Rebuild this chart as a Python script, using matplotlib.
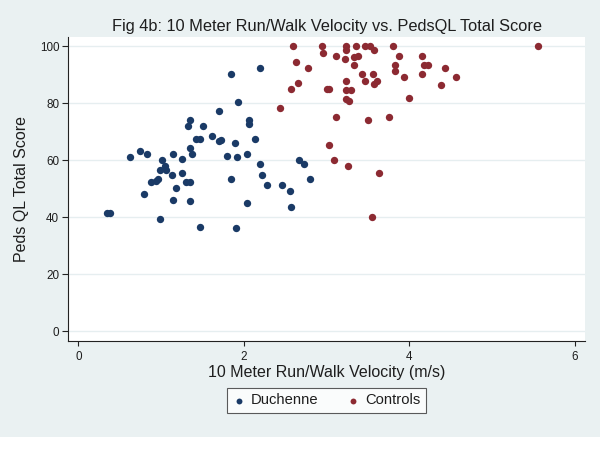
import matplotlib
matplotlib.use("Agg")
import matplotlib.pyplot as plt
from matplotlib.patches import Rectangle

plt.rcParams['font.family'] = ['Liberation Sans', 'DejaVu Sans']

duch_x = [0.35, 0.38, 0.62, 0.74, 0.83, 0.79, 0.99, 0.88, 0.94, 0.96, 1.01, 0.99, 1.05, 1.06,
          1.14, 1.13, 1.18, 1.15, 1.25, 1.25, 1.30, 1.35, 1.35, 1.35, 1.38, 1.32, 1.35, 1.42,
          1.47, 1.51, 1.47, 1.61, 1.70, 1.70, 1.73, 1.85, 1.80, 1.89, 1.85, 1.93, 1.92, 1.90,
          2.06, 2.06, 2.04, 2.04, 2.13, 2.20, 2.20, 2.22, 2.28, 2.46, 2.56, 2.57, 2.67, 2.73, 2.80]
duch_y = [41.5, 41.5, 61.0, 63.1, 62.0, 48.1, 39.4, 52.3, 52.7, 53.5, 60.0, 56.7, 57.9, 56.7,
          62.0, 54.7, 50.2, 45.9, 60.5, 55.6, 52.3, 52.3, 45.7, 64.3, 62.0, 71.9, 74.0, 67.4,
          67.4, 71.9, 36.4, 68.6, 77.1, 66.6, 67.2, 90.1, 61.3, 66.0, 53.5, 80.5, 61.0, 36.2,
          74.0, 72.8, 62.0, 44.9, 67.4, 92.2, 58.8, 54.7, 51.4, 51.4, 49.2, 43.7, 60.0, 58.8, 53.5]

ctrl_x = [2.59, 2.94, 2.96, 3.24, 3.24, 3.36, 3.47, 3.52, 3.57, 3.80, 5.56, 3.11, 3.22, 3.33,
          3.38, 3.33, 3.88, 4.15, 2.63, 2.78, 3.83, 3.83, 4.18, 4.23, 4.43, 3.43, 3.56, 4.15,
          4.57, 3.94, 3.46, 3.61, 3.57, 3.23, 4.38, 2.65, 2.57, 3.00, 3.03, 3.23, 3.30, 3.23,
          3.27, 4.00, 2.44, 3.12, 3.50, 3.75, 3.03, 3.09, 3.26, 3.64, 3.55]
ctrl_y = [100, 100, 97.7, 100, 98.8, 100, 100, 100, 98.8, 100, 100, 96.6, 95.6, 96.3,
          96.7, 93.5, 96.6, 96.6, 94.4, 92.3, 93.5, 91.4, 93.5, 93.5, 92.3, 90.2, 90.2, 90.2,
          89.1, 89.1, 87.9, 87.9, 86.7, 87.9, 86.3, 87.0, 85.1, 84.8, 84.8, 84.7, 84.7, 81.6,
          80.7, 81.9, 78.3, 75.1, 74.0, 75.1, 65.3, 60.0, 57.8, 55.6, 40.1]

x_ticks = [0, 2, 4, 6]
y_ticks = [0, 20, 40, 60, 80, 100]
labels = ["Duchenne", "Controls"]
title = "Fig 4b: 10 Meter Run/Walk Velocity vs. PedsQL Total Score"
xlabel = "10 Meter Run/Walk Velocity (m/s)"
ylabel = "Peds QL Total Score"

W, H = 600, 449
bg = "#eaf1f2"
navy = "#1a3a66"
maroon = "#8c2a32"
txt = "#1e1e1e"

fig = plt.figure(figsize=(W / 100, H / 100), dpi=100)
fig.patch.set_facecolor("white")
fig.patches.append(Rectangle((0, (H - 437) / H), 1, 437 / H, transform=fig.transFigure,
                             facecolor=bg, edgecolor="none", zorder=-10))

left, right, top, bottom = 68, 585, 37, 341
ax = fig.add_axes([left / W, 1 - bottom / H, (right - left) / W, (bottom - top) / H])
ax.set_facecolor("white")
ax.set_xlim(-0.125, 6.125)
ax.set_ylim(-3.4, 103.2)
for v in y_ticks:
    ax.axhline(v, color="#e6eef0", lw=1.0, zorder=0)

ax.scatter(duch_x, duch_y, s=28, color=navy, label=labels[0], zorder=3, linewidths=0)
ax.scatter(ctrl_x, ctrl_y, s=28, color=maroon, label=labels[1], zorder=3, linewidths=0)

for s in ["top", "right"]:
    ax.spines[s].set_visible(False)
for s in ["left", "bottom"]:
    ax.spines[s].set_color("#222222")
    ax.spines[s].set_linewidth(0.8)
ax.set_xticks(x_ticks)
ax.set_yticks(y_ticks)
ax.tick_params(axis="both", labelsize=8.4, color="#222222", labelcolor=txt, width=0.8)
ax.tick_params(axis="x", length=3.3, pad=4)
ax.tick_params(axis="y", length=4.5, pad=1.8)

ax.set_xlabel(xlabel, fontsize=11.5, labelpad=1, color=txt)
ax.set_ylabel(ylabel, fontsize=11.5, labelpad=8, color=txt)

fig.text(326.5 / W, 1 - 31.0 / H, title, fontsize=11.8, ha="center", va="baseline", color=txt)

leg = fig.legend(loc="center", bbox_to_anchor=(326.5 / W, 1 - 400.5 / H), ncol=2, fontsize=10.6,
                 frameon=True, fancybox=False, edgecolor="#333333", handletextpad=0.4,
                 handlelength=0.8, columnspacing=2.0, markerscale=0.8, borderpad=0.4)
leg.get_frame().set_linewidth(0.8)
for t in leg.get_texts():
    t.set_color(txt)

fig.savefig("out.png", dpi=100, facecolor=fig.get_facecolor())
